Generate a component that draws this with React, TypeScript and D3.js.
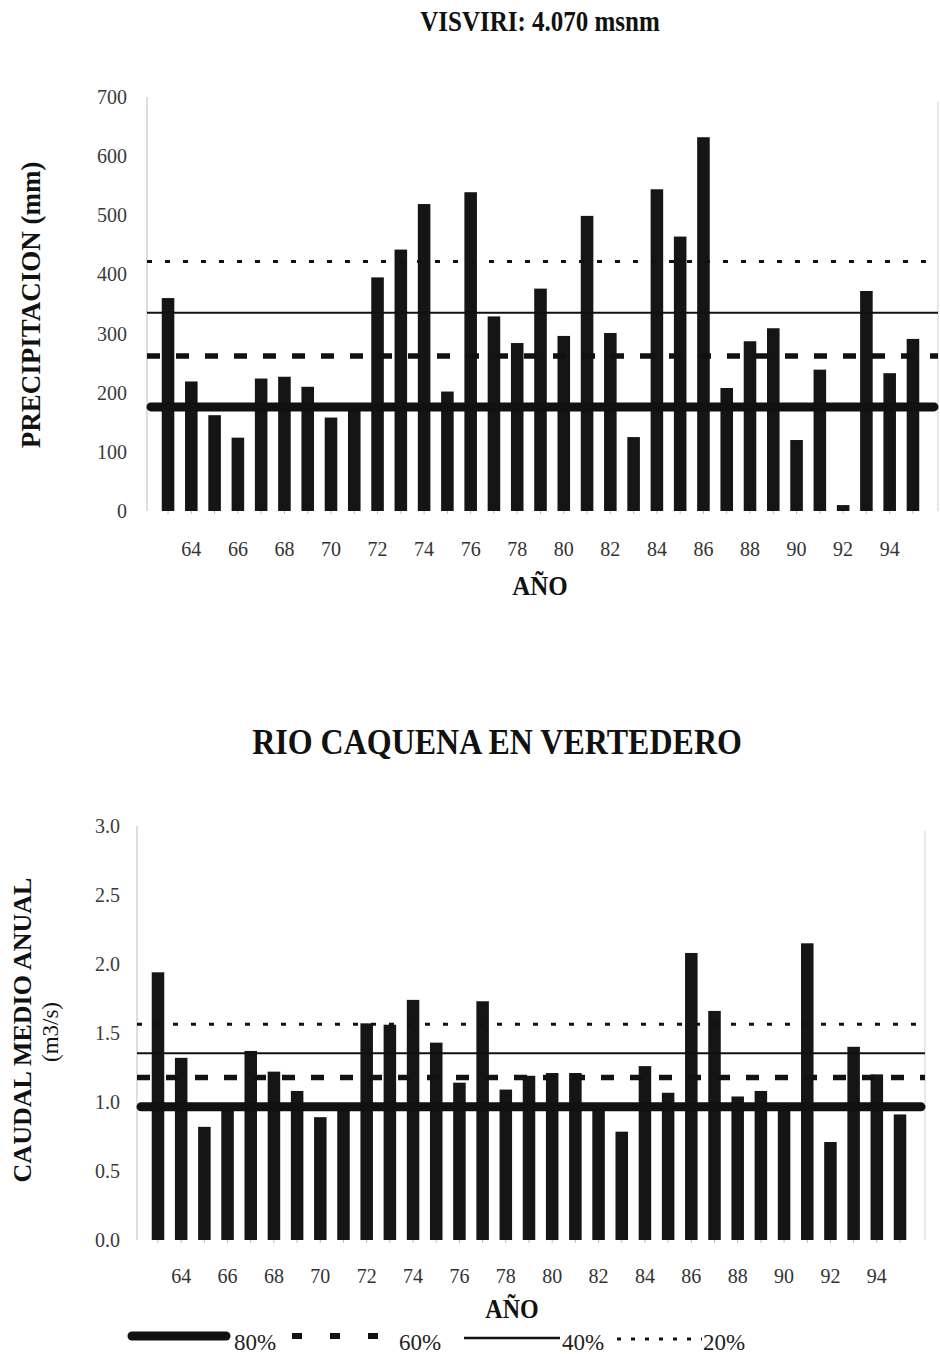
import React from "react";
import * as d3 from "d3";

const years = ["63","64","65","66","67","68","69","70","71","72","73","74","75","76","77","78","79","80","81","82","83","84","85","86","87","88","89","90","91","92","93","94","95"];
const tickYears = ["64","66","68","70","72","74","76","78","80","82","84","86","88","90","92","94"];

const precipitacion = [360,219,162,124,224,227,210,158,182,395,442,519,202,539,329,284,376,296,499,301,125,544,464,632,208,287,309,120,239,10,372,233,291];
const caudal = [1.94,1.32,0.82,0.96,1.37,1.22,1.08,0.89,0.99,1.57,1.56,1.74,1.43,1.14,1.73,1.09,1.19,1.21,1.21,0.95,0.785,1.26,1.067,2.08,1.66,1.04,1.08,0.96,2.15,0.71,1.40,1.20,0.91];

const probLabels = ["80%","60%","40%","20%"];
const precipProb = [176, 262, 335, 422];
const caudalProb = [0.965, 1.177, 1.354, 1.563];

const precipTicks = [0,100,200,300,400,500,600,700];
const caudalTicks = [0,0.5,1,1.5,2,2.5,3];

const SERIF = "'Liberation Serif', 'DejaVu Serif', serif";

const lineStyles = [
  { w: 9, dash: undefined, cap: "round" },
  { w: 5.5, dash: "13 16", cap: "butt" },
  { w: 2, dash: undefined, cap: "butt" },
  { w: 3, dash: "5 13", cap: "butt" },
];

function Chart({ values, probs, ticks, fmt, top, bottom, left, right, bandLeft, bandRight, labelGap, xLabelDy }: any) {
  const x = d3.scaleBand<string>().domain(years).range([bandLeft, bandRight]).paddingInner(0.46).paddingOuter(0.23);
  const y = d3.scaleLinear().domain([ticks[0], ticks[ticks.length - 1]]).range([bottom, top]);
  return (
    <g>
      <line x1={left} x2={left} y1={top} y2={bottom} stroke="#c8c8c8" strokeWidth={1.2} />
      <line x1={right} x2={right} y1={top + 5} y2={bottom} stroke="#d8d8d8" strokeWidth={1.2} />
      {ticks.map((t: number) => (
        <text key={t} x={left - labelGap} y={y(t)} dy="0.35em" textAnchor="end" fontFamily={SERIF} fontSize={20} fill="#3a3a3a">{fmt(t)}</text>
      ))}
      {years.map((yr, i) => (
        <rect key={yr} x={x(yr)} y={y(values[i])} width={x.bandwidth()} height={y(0) - y(values[i])} fill="#151515" />
      ))}
      {years.map((yr) => (
        <line key={"t" + yr} x1={x(yr)! + x.bandwidth() / 2} x2={x(yr)! + x.bandwidth() / 2} y1={bottom} y2={bottom + 3} stroke="#bbb" strokeWidth={1} />
      ))}
      {probs.map((p: number, i: number) => {
        const s = lineStyles[i];
        return (
          <line key={"p" + i} x1={left + (s.cap === "round" ? 4 : 0)} x2={right - (s.cap === "round" ? 4 : 0)} y1={y(p)} y2={y(p)} stroke="#111" strokeWidth={s.w} strokeDasharray={s.dash} strokeLinecap={s.cap as any} />
        );
      })}
      {tickYears.map((t) => (
        <text key={"x" + t} x={x(t)! + x.bandwidth() / 2} y={bottom + xLabelDy} textAnchor="middle" fontFamily={SERIF} fontSize={20} fill="#333">{t}</text>
      ))}
    </g>
  );
}

export default function App() {
  return (
    <svg width={940} height={1354} style={{ position: "absolute", left: 0, top: 0, background: "#fff" }}>
      <rect x={0} y={0} width={940} height={1354} fill="#fff" />
      <text transform="translate(540,31) scale(1,1.2)" textAnchor="middle" fontFamily={SERIF} fontWeight="bold" fontSize={25} fill="#111">VISVIRI: 4.070 msnm</text>
      <Chart values={precipitacion} probs={precipProb} ticks={precipTicks} fmt={(t: number) => String(t)}
        top={97} bottom={511} left={147} right={938} bandLeft={156.4} bandRight={924.6} labelGap={20} xLabelDy={45} />
      <text transform="translate(540,595) scale(1,1.1)" textAnchor="middle" fontFamily={SERIF} fontWeight="bold" fontSize={25} fill="#111">AÑO</text>
      <text transform="translate(40,305) rotate(-90)" textAnchor="middle" fontFamily={SERIF} fontWeight="bold" fontSize={27} fill="#111">PRECIPITACION (mm)</text>

      <text transform="translate(497,754) scale(1,1.1)" textAnchor="middle" fontFamily={SERIF} fontWeight="bold" fontSize={32} fill="#111">RIO CAQUENA EN VERTEDERO</text>
      <Chart values={caudal} probs={caudalProb} ticks={caudalTicks} fmt={(t: number) => t.toFixed(1)}
        top={826} bottom={1240} left={137} right={925} bandLeft={146.4} bandRight={911.6} labelGap={17} xLabelDy={43} />
      <text transform="translate(512,1318) scale(1,1.1)" textAnchor="middle" fontFamily={SERIF} fontWeight="bold" fontSize={24} fill="#111">AÑO</text>
      <text transform="translate(31,1030) rotate(-90)" textAnchor="middle" fontFamily={SERIF} fontWeight="bold" fontSize={26} fill="#111">CAUDAL MEDIO ANUAL</text>
      <text transform="translate(58,1032) rotate(-90)" textAnchor="middle" fontFamily={SERIF} fontSize={23} fill="#111">(m3/s)</text>

      <g>
        <line x1={132} x2={226} y1={1336} y2={1336} stroke="#111" strokeWidth={9} strokeLinecap="round" />
        <text x={234} y={1350} fontFamily={SERIF} fontSize={23} fill="#222">{probLabels[0]}</text>
        <line x1={292} x2={382} y1={1336} y2={1336} stroke="#111" strokeWidth={6} strokeDasharray="10 28" />
        <text x={399} y={1350} fontFamily={SERIF} fontSize={23} fill="#222">{probLabels[1]}</text>
        <line x1={464} x2={560} y1={1338} y2={1338} stroke="#111" strokeWidth={2.5} />
        <text x={562} y={1350} fontFamily={SERIF} fontSize={23} fill="#222">{probLabels[2]}</text>
        <line x1={617} x2={702} y1={1339} y2={1339} stroke="#111" strokeWidth={3} strokeDasharray="4 10" />
        <text x={703} y={1350} fontFamily={SERIF} fontSize={23} fill="#222">{probLabels[3]}</text>
      </g>
    </svg>
  );
}
